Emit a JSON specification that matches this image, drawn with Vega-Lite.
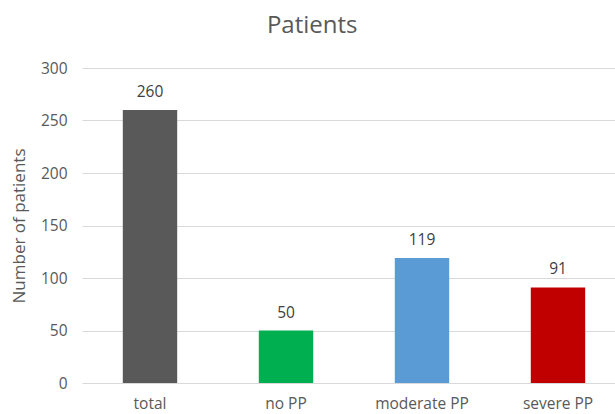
{
  "$schema": "https://vega.github.io/schema/vega-lite/v6.json",
  "width": 533,
  "height": 315,
  "autosize": {"type": "none"},
  "padding": {"left": 82, "top": 68, "right": 0, "bottom": 31},
  "background": "white",
  "title": {
    "text": "Patients",
    "font": "Open Sans",
    "fontSize": 24,
    "fontWeight": "normal",
    "color": "#595959",
    "anchor": "middle",
    "frame": "bounds",
    "dx": -6,
    "offset": 23
  },
  "config": {"view": {"stroke": null}},
  "data": {
    "values": [
      {"category": "total", "patients": 260},
      {"category": "no PP", "patients": 50},
      {"category": "moderate PP", "patients": 119},
      {"category": "severe PP", "patients": 91}
    ]
  },
  "encoding": {
    "x": {
      "field": "category",
      "type": "nominal",
      "sort": null,
      "scale": {"range": [0, 544], "paddingInner": 0.6, "paddingOuter": 0.3},
      "axis": {
        "title": null,
        "labelAngle": 0,
        "domain": false,
        "ticks": false,
        "labelPadding": 13,
        "labelFont": "Open Sans",
        "labelFontSize": 15.5,
        "labelColor": "#595959"
      }
    },
    "y": {
      "field": "patients",
      "type": "quantitative",
      "scale": {"domain": [0, 300]},
      "axis": {
        "values": [0, 50, 100, 150, 200, 250, 300],
        "title": "Number  of patients",
        "titleFont": "Open Sans",
        "titleFontSize": 17,
        "titleFontWeight": "normal",
        "titleColor": "#595959",
        "titlePadding": 12,
        "domain": false,
        "ticks": false,
        "labelPadding": 15,
        "labelFont": "Open Sans",
        "labelFontSize": 15.5,
        "labelColor": "#595959",
        "gridColor": "#D9D9D9",
        "gridWidth": 1
      }
    }
  },
  "layer": [
    {
      "mark": {"type": "bar"},
      "encoding": {
        "color": {
          "field": "category",
          "type": "nominal",
          "scale": {
            "domain": ["total", "no PP", "moderate PP", "severe PP"],
            "range": ["#595959", "#00B050", "#5B9BD5", "#C00000"]
          },
          "legend": null
        }
      }
    },
    {
      "mark": {
        "type": "text",
        "baseline": "bottom",
        "dy": -10,
        "font": "Open Sans",
        "fontSize": 15.5,
        "color": "#404040"
      },
      "encoding": {"text": {"field": "patients", "type": "quantitative"}}
    }
  ]
}
